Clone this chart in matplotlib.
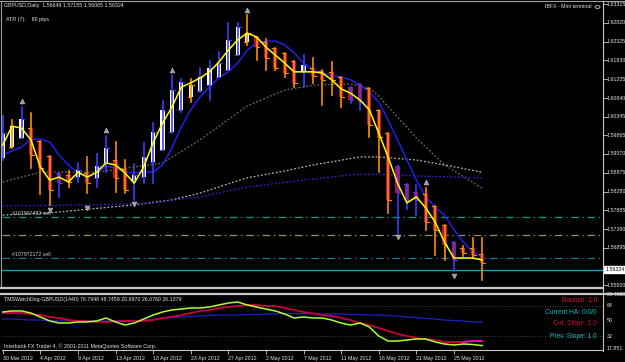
import matplotlib
matplotlib.use("Agg")
import matplotlib.pyplot as plt
from matplotlib.patches import Rectangle

# ---------------- data ----------------
dates = ["30 Mar 2012", "4 Apr 2012", "9 Apr 2012", "13 Apr 2012", "18 Apr 2012",
         "23 Apr 2012", "27 Apr 2012", "2 May 2012", "7 May 2012", "11 May 2012",
         "16 May 2012", "21 May 2012", "25 May 2012"]

high = [1.6037, 1.6026, 1.6060, 1.6045, 1.5971, 1.5932, 1.5887, 1.5892, 1.5913, 1.5929,
        1.5937, 1.5984, 1.5968, 1.5921, 1.5910, 1.5966, 1.6018, 1.6076, 1.6145, 1.6134,
        1.6134, 1.6163, 1.6182, 1.6205, 1.6282, 1.6282, 1.6303, 1.6245, 1.6239, 1.6216,
        1.6203, 1.6182, 1.6197, 1.6189, 1.6158, 1.6179, 1.6139, 1.6113, 1.6121, 1.6110,
        1.6053, 1.5992, 1.5905, 1.5858, 1.5855, 1.5847, 1.5800, 1.5750, 1.5705, 1.5695,
        1.5716, 1.57155]
low = [1.5921, 1.5953, 1.5979, 1.5900, 1.5831, 1.5803, 1.5824, 1.5850, 1.5863, 1.5834,
       1.5850, 1.5889, 1.5837, 1.5834, 1.5816, 1.5860, 1.5860, 1.5947, 1.5992, 1.6047,
       1.6074, 1.6100, 1.6079, 1.6139, 1.6158, 1.6197, 1.6224, 1.6184, 1.6158, 1.6158,
       1.6139, 1.6113, 1.6113, 1.6124, 1.6066, 1.6092, 1.6060, 1.6071, 1.6053, 1.5982,
       1.5889, 1.5782, 1.5729, 1.5792, 1.5776, 1.5737, 1.5671, 1.5658, 1.5629, 1.5668,
       1.5663, 1.56065]
ha_open = [1.5926, 1.5955, 1.5979, 1.6005, 1.5971, 1.5932, 1.5887, 1.5882, 1.5876, 1.5887,
           1.5874, 1.5913, 1.5921, 1.5897, 1.5866, 1.5876, 1.5916, 1.5947, 1.5995, 1.6053,
           1.6087, 1.6103, 1.6118, 1.6139, 1.6158, 1.6197, 1.6232, 1.6245, 1.6232, 1.6216,
           1.6203, 1.6182, 1.6153, 1.6163, 1.6155, 1.6153, 1.6139, 1.6113, 1.6121, 1.6110,
           1.6053, 1.5992, 1.5905, 1.5858, 1.5837, 1.5831, 1.5800, 1.5750, 1.5705, 1.5689,
           1.5689, 1.5674]
ha_close = [1.5992, 1.6010, 1.6029, 1.5934, 1.5900, 1.5842, 1.5860, 1.5863, 1.5895, 1.5860,
            1.5905, 1.5953, 1.5874, 1.5842, 1.5882, 1.5929, 1.5995, 1.6053, 1.6105, 1.6126,
            1.6118, 1.6139, 1.6163, 1.6176, 1.6237, 1.6271, 1.6255, 1.6218, 1.6189, 1.6163,
            1.6150, 1.6124, 1.6171, 1.6142, 1.6132, 1.6132, 1.6087, 1.6079, 1.6074, 1.6013,
            1.5982, 1.5816, 1.5834, 1.5816, 1.5816, 1.5758, 1.5737, 1.5697, 1.5658, 1.5676,
            1.5671, 1.5650]
bar_up = [1, 0, 1, 0, 0, 0, 1, 0, 1, 0, 1, 1, 0, 0, 1, 1, 1, 1, 1, 1, 0, 1, 1, 1, 1, 1,
          0, 0, 0, 0, 0, 0, 1, 0, 0, 0, 0, 1, 1, 0, 0, 0, 1, 1, 1, 0, 0, 0, 1, 0, 0, 0]
yellow_line = [1.5960, 1.6010, 1.6005, 1.5974, 1.5903, 1.5868, 1.5876, 1.5863, 1.5889, 1.5876,
               1.5889, 1.5913, 1.5908, 1.5887, 1.5860, 1.5903, 1.5966, 1.6018, 1.6060, 1.6113,
               1.6124, 1.6137, 1.6153, 1.6179, 1.6210, 1.6237, 1.6255, 1.6245, 1.6218, 1.6197,
               1.6176, 1.6153, 1.6153, 1.6153, 1.6150, 1.6132, 1.6108, 1.6097, 1.6079, 1.6053,
               1.5992, 1.5929, 1.5860, 1.5808, 1.5824, 1.5795, 1.5758, 1.5705, 1.5663, 1.5663,
               1.5663, 1.5658]
ema_line = [1.5934, 1.5945, 1.5955, 1.5976, 1.5976, 1.5968, 1.5934, 1.5908, 1.5887, 1.5876,
            1.5887, 1.5905, 1.5900, 1.5889, 1.5887, 1.5889, 1.5889, 1.5908, 1.5953, 1.6008,
            1.6053, 1.6087, 1.6113, 1.6137, 1.6153, 1.6176, 1.6210, 1.6229, 1.6234, 1.6234,
            1.6224, 1.6203, 1.6176, 1.6158, 1.6150, 1.6145, 1.6139, 1.6132, 1.6118, 1.6100,
            1.6074, 1.6026, 1.5974, 1.5921, 1.5868, 1.5824, 1.5797, 1.5776, 1.5737, 1.5705,
            1.5679, 1.5666]
ma_a_x = [0, 4, 10, 17, 21, 26, 30, 33, 37, 39, 40, 44, 47, 51]
ma_a_y = [1.5863, 1.5889, 1.5889, 1.5913, 1.5974, 1.6063, 1.6105, 1.6118, 1.6121, 1.6110,
          1.6089, 1.5979, 1.5908, 1.5847]
ma_b_x = [0, 5, 14, 18, 21, 26, 30, 33, 38, 40, 44, 47, 51]
ma_b_y = [1.5776, 1.5782, 1.5803, 1.5816, 1.5834, 1.5874, 1.5892, 1.5908, 1.5929, 1.5929,
          1.5921, 1.5908, 1.5889]
ma_c_x = [0, 10, 16, 21, 26, 32, 37, 40, 44, 51]
ma_c_y = [1.5800, 1.5803, 1.5808, 1.5824, 1.5850, 1.5868, 1.5882, 1.5884, 1.5879, 1.5874]
up_fractal_x = [2, 11, 18, 26, 45]
up_fractal_y = [1.6076, 1.6000, 1.6158, 1.6316, 1.5863]
dn_fractal_x = [5, 9, 14, 42, 48]
dn_fractal_y = [1.5789, 1.5795, 1.5805, 1.5718, 1.5616]
level_sell1 = 1.5771
level_mid = 1.5724
level_sell2 = 1.5663
bid = 1.56324
price_ticks = [1.63315, 1.62820, 1.62325, 1.61830, 1.61335, 1.60840, 1.60345, 1.59865,
               1.59370, 1.58875, 1.58380, 1.57885, 1.57390, 1.56895, 1.55920]
price_tick_labels = ["1.63315", "1.62820", "1.62325", "1.61830", "1.61335", "1.60840",
                     "1.60345", "1.59865", "1.59370", "1.58875", "1.58380", "1.57885",
                     "1.57390", "1.56895", "1.55920"]

osc_lime = [60.4, 61.6, 61.6, 59.2, 54.5, 49.8, 47.4, 47.4, 48.6, 48.6, 49.8, 53.3, 48.6,
            45.0, 47.4, 52.1, 56.8, 60.4, 62.8, 63.9, 65.1, 65.1, 66.3, 68.7, 71.0, 72.2,
            68.7, 66.3, 63.9, 61.6, 58.0, 53.3, 54.5, 53.3, 53.3, 50.9, 47.4, 45.0, 47.4,
            42.7, 32.0, 26.1, 26.1, 27.3, 28.5, 28.5, 25.0, 22.6, 21.4, 22.6, 22.0, 20.7]
osc_red = [59.2, 59.2, 59.2, 58.0, 56.8, 54.5, 53.3, 50.9, 49.8, 49.8, 48.6, 48.6, 49.2,
           49.8, 49.8, 49.8, 50.9, 53.3, 54.5, 56.8, 59.2, 61.6, 62.7, 65.1, 66.3, 67.5,
           68.7, 68.7, 67.5, 67.5, 65.1, 62.7, 60.4, 58.6, 56.8, 55.7, 53.3, 50.9, 47.4,
           45.0, 41.5, 38.0, 34.4, 32.0, 29.7, 28.5, 27.3, 25.0, 25.0, 25.0, 26.1, 26.1]
osc_blue = [52.1, 52.1, 51.5, 50.9, 50.9, 50.3, 49.8, 49.8, 49.8, 49.8, 49.8, 49.8, 50.3,
            50.3, 50.3, 50.9, 51.5, 52.7, 53.9, 54.5, 55.1, 55.7, 56.3, 56.8, 56.8, 56.8,
            57.4, 57.4, 58.0, 58.0, 58.6, 58.6, 58.6, 58.6, 58.0, 58.0, 58.0, 57.4, 57.4,
            56.8, 56.8, 56.3, 55.7, 54.5, 53.9, 52.7, 52.1, 50.9, 50.3, 49.8, 48.6, 48.7]
osc_levels = [68, 32]
osc_ticks = [80.4628, 68, 50, 32, 17.851]
osc_tick_labels = ["80.4628", "68", "50", "32", "17.851"]

# ---------------- figure ----------------
W, H = 625, 362
FONT = "Liberation Sans"
fig = plt.figure(figsize=(W / 100, H / 100), dpi=100, facecolor="black")


def fx(x):
    return x / W


def fy(y):
    return 1 - y / H


n = len(high)
xs = list(range(n))
XL = (-0.0745, 63.86)

ax = fig.add_axes([fx(2), fy(286), (603 - 2) / W, (286 - 2) / H])
ax.set_facecolor("black")
ax.set_xlim(*XL)
ax.set_ylim(1.55894, 1.63368)
ax.set_xticks([])
ax.set_yticks([])
for s in ax.spines.values():
    s.set_visible(False)

# horizontal order levels
ax.axhline(level_sell1, color="#00A08C", lw=0.9, ls=(0, (6, 3, 1, 3)), zorder=1)
ax.axhline(level_mid, color="#A08C64", lw=0.9, ls=(0, (6, 3, 1, 3)), zorder=1)
ax.axhline(level_sell2, color="#1E7896", lw=0.9, ls=(0, (6, 3, 1, 3)), zorder=1)
ax.axhline(bid, color="#10A0B4", lw=1.0, zorder=1)
ax.text(1, level_sell1 + 0.0003, "#107967452 sell", color="#C8C8C8", fontsize=3.8,
        family=FONT, va="bottom", ha="left", zorder=6)
ax.text(1, level_sell2 + 0.0003, "#107972172 sell", color="#C8C8C8", fontsize=3.8,
        family=FONT, va="bottom", ha="left", zorder=6)

# moving averages (dotted)
ax.plot(ma_a_x, ma_a_y, color="#7A6A45", lw=0.9, ls=(0, (1.5, 1.5)), zorder=1.5)
ax.plot(ma_b_x, ma_b_y, color="#B4B4B4", lw=0.9, ls=(0, (1.5, 1.5)), zorder=1.5)
ax.plot(ma_c_x, ma_c_y, color="#2828D2", lw=0.9, ls=(0, (1.5, 1.5)), zorder=1.5)

# EMA
ax.plot(xs, ema_line, color="#2020E8", lw=1.1, zorder=2)

# candles
for i in xs:
    o, c = ha_open[i], ha_close[i]
    lo_b, hi_b = min(o, c), max(o, c)
    col = "#FFFFFF" if c >= o else "#B4103C"
    ax.add_patch(Rectangle((i - 0.22, lo_b), 0.44, max(hi_b - lo_b, 0.0001),
                           facecolor=col, edgecolor="none", zorder=3))
    wcol = "#3C3CFF" if bar_up[i] else "#FF8C00"
    ax.plot([i, i], [low[i], high[i]], color=wcol, lw=1.2, zorder=4)
    ax.plot([i - 0.3, i], [o, o], color=wcol, lw=0.8, zorder=4)
    ax.plot([i, i + 0.3], [c, c], color=wcol, lw=0.8, zorder=4)

# yellow line
ax.plot(xs, yellow_line, color="#FFFF00", lw=1.1, zorder=5)

# fractals
ax.plot(up_fractal_x, up_fractal_y, ls="none", marker="^", ms=3.5, color="#9A9A9A",
        markeredgecolor="#C8C8C8", markeredgewidth=0.4, zorder=6)
ax.plot(dn_fractal_x, dn_fractal_y, ls="none", marker="v", ms=3.5, color="#9A9A9A",
        markeredgecolor="#C8C8C8", markeredgewidth=0.4, zorder=6)

# price axis labels
for v, lab in zip(price_ticks, price_tick_labels):
    ax.plot([1.0, 1.006], [v, v], transform=ax.get_yaxis_transform(), color="#C8C8C8",
            lw=0.6, clip_on=False)
    ax.text(1.0055, v, lab, transform=ax.get_yaxis_transform(), color="#E6E6E6",
            fontsize=3.8, family=FONT, va="center", ha="left", clip_on=False)
ax.text(1.0035, bid, "1.56324", transform=ax.get_yaxis_transform(), color="black",
        fontsize=3.8, family=FONT, va="center", ha="left", clip_on=False,
        bbox=dict(boxstyle="square,pad=0.25", fc="white", ec="white"))

# header texts
fig.text(fx(4), fy(6), "GBPUSD,Daily  1.56649 1.57155 1.56065 1.56324", color="#E6E6E6",
         fontsize=3.8, family=FONT, va="center", ha="left")
fig.text(fx(6), fy(19), "ATR (7):    80 pips", color="#E6E6E6",
         fontsize=3.8, family=FONT, va="center", ha="left")
fig.text(fx(592), fy(7), "IBFX - Mini terminal", color="#E6E6E6",
         fontsize=3.8, family=FONT, va="center", ha="right")
fig.patches.append(plt.Circle((fx(597.5), fy(7)), 2.5 / W, transform=fig.transFigure,
                              fill=False, ec="#C8C8C8", lw=0.6))

# frame lines
fig.add_artist(plt.Line2D([fx(0), fx(625)], [fy(1), fy(1)], color="#A0A0A0", lw=0.8))
fig.add_artist(plt.Line2D([fx(1.5), fx(1.5)], [fy(1), fy(287)], color="#A0A0A0", lw=0.8))
fig.add_artist(plt.Line2D([fx(603), fx(603)], [fy(1), fy(351)], color="#C8C8C8", lw=0.8))
fig.add_artist(plt.Line2D([fx(0), fx(603)], [fy(287.5), fy(287.5)], color="#C8C8C8", lw=1.6))
fig.add_artist(plt.Line2D([fx(0), fx(625)], [fy(293.5), fy(293.5)], color="#C8C8C8", lw=1.6))

# ---------------- oscillator panel ----------------
ax2 = fig.add_axes([fx(2), fy(350), (603 - 2) / W, (350 - 295) / H])
ax2.set_facecolor("black")
ax2.set_xlim(*XL)
ax2.set_ylim(15.5, 80.46)
for s in ax2.spines.values():
    s.set_visible(False)
ax2.spines["bottom"].set_visible(True)
ax2.spines["bottom"].set_color("#C8C8C8")
ax2.spines["bottom"].set_linewidth(0.8)
ax2.set_yticks([])
for lv in osc_levels:
    ax2.axhline(lv, color="#505050", lw=0.6, ls=(0, (1, 2)), zorder=1)
ax2.plot(xs, osc_blue, color="#1E1EC8", lw=0.9, zorder=2)
ax2.plot(xs[:50], osc_red[:50], color="#C8003C", lw=1.3, zorder=3)
ax2.plot(xs[49:], osc_red[49:], color="#FF00C8", lw=1.3, zorder=3)
ax2.plot(xs[:51] + [51], osc_lime, color="#ADFF2F", lw=1.1, zorder=4)

tick_pos = [4 * k for k in range(len(dates))]
ax2.set_xticks(tick_pos)
ax2.set_xticklabels(dates, ha="left", family=FONT)
ax2.tick_params(axis="x", colors="#C8C8C8", labelcolor="#E6E6E6", labelsize=3.8,
                length=3, width=0.6, pad=1.5, direction="out")

for v, lab in zip(osc_ticks, osc_tick_labels):
    ax2.text(1.0055, v, lab, transform=ax2.get_yaxis_transform(), color="#E6E6E6",
             fontsize=3.8, family=FONT, va="center", ha="left", clip_on=False)

fig.text(fx(4), fy(300), "TMSWatchDog-GBPUSD(1440) 76.7948 48.7459 20.6970 26.0760 26.1379",
         color="#E6E6E6", fontsize=3.8, family=FONT, va="center", ha="left")
fig.text(fx(4), fy(346.5), "Interbank FX Trader 4, \u00a9 2001-2011 MetaQuotes Software Corp.",
         color="#E6E6E6", fontsize=3.8, family=FONT, va="center", ha="left")

side = [("Bounce: 2.0", "#DC143C", 300), ("Current HA: 0/0/0", "#1EB4C8", 313),
        ("Cur. Slope: 1.0", "#C8143C", 323.5), ("Prev. Slope: 1.0", "#1EB4C8", 336)]
for txt, col, yy in side:
    fig.text(fx(597), fy(yy), txt, color=col, fontsize=4.8, family=FONT,
             va="center", ha="right")

fig.savefig("out.png", dpi=100, facecolor="black")
